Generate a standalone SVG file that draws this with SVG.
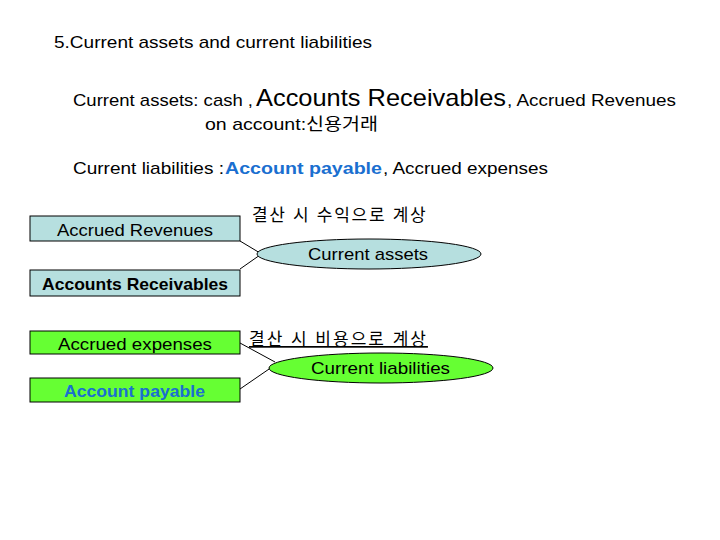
<svg xmlns="http://www.w3.org/2000/svg" width="720" height="540" viewBox="0 0 720 540">
<style>
text{font-family:"Liberation Sans","Noto Sans CJK KR",sans-serif;fill:#000}
.t{font-size:17px}
.kr{font-size:17px;letter-spacing:1.7px}
.box{stroke:#000;stroke-width:1}
.cy{fill:#b6dfdf}
.gr{fill:#66ff33}
.blue{fill:#1a6fd0}
.conn line{stroke:#000;stroke-width:1}
</style>
<rect width="720" height="540" fill="#fff"/>
<g id="header">
<text class="t" x="54" y="48" textLength="318" lengthAdjust="spacingAndGlyphs">5.Current assets and current liabilities</text>
<text class="t" x="73" y="106" textLength="180" lengthAdjust="spacingAndGlyphs">Current assets: cash ,</text>
<text x="256" y="106" font-size="24" textLength="250" lengthAdjust="spacingAndGlyphs">Accounts Receivables</text>
<text class="t" x="507" y="106" textLength="169" lengthAdjust="spacingAndGlyphs">, Accrued Revenues</text>
<text class="t" x="205" y="130" textLength="173" lengthAdjust="spacingAndGlyphs">on account:신용거래</text>
<text class="t" x="73" y="174" textLength="151" lengthAdjust="spacingAndGlyphs">Current liabilities :</text>
<text class="blue" x="225" y="174" font-size="17" font-weight="bold" textLength="157" lengthAdjust="spacingAndGlyphs">Account payable</text>
<text class="t" x="383" y="174" textLength="165" lengthAdjust="spacingAndGlyphs">, Accrued expenses</text>
</g>
<g class="conn" id="connectors">
<line x1="240" y1="241" x2="260" y2="253"/>
<line x1="240" y1="269" x2="260" y2="255"/>
<line x1="240" y1="343" x2="275" y2="362"/>
<line x1="240" y1="389" x2="272" y2="367"/>
</g>
<g id="n-accrued-revenues">
<rect class="box cy" x="30" y="216" width="210" height="25"/>
<text class="t" x="57" y="236" textLength="156" lengthAdjust="spacingAndGlyphs">Accrued Revenues</text>
</g>
<g id="n-accounts-receivables">
<rect class="box cy" x="30" y="270" width="210" height="26"/>
<text class="t" x="42" y="290" font-weight="bold" textLength="186" lengthAdjust="spacingAndGlyphs">Accounts Receivables</text>
</g>
<g id="n-current-assets">
<ellipse class="box cy" cx="369" cy="254" rx="112" ry="15"/>
<text class="t" x="308" y="260" textLength="120" lengthAdjust="spacingAndGlyphs">Current assets</text>
</g>
<g id="lbl-revenue">
<text class="kr" x="252" y="221">결산 시 수익으로 계상</text>
</g>
<g id="n-accrued-expenses">
<rect class="box gr" x="30" y="331" width="210" height="23"/>
<text class="t" x="58" y="350" textLength="154" lengthAdjust="spacingAndGlyphs">Accrued expenses</text>
</g>
<g id="n-account-payable">
<rect class="box gr" x="30" y="378" width="210" height="24"/>
<text class="t blue" x="64" y="397" font-weight="bold" textLength="141" lengthAdjust="spacingAndGlyphs">Account payable</text>
</g>
<g id="n-current-liabilities">
<ellipse class="box gr" cx="381" cy="368" rx="112" ry="15"/>
<text class="t" x="311" y="374" textLength="139" lengthAdjust="spacingAndGlyphs">Current liabilities</text>
</g>
<g id="lbl-expense">
<text class="kr" x="249" y="345" text-decoration="underline" style="letter-spacing:2px">결산 시 비용으로 계상</text>
</g>
</svg>
